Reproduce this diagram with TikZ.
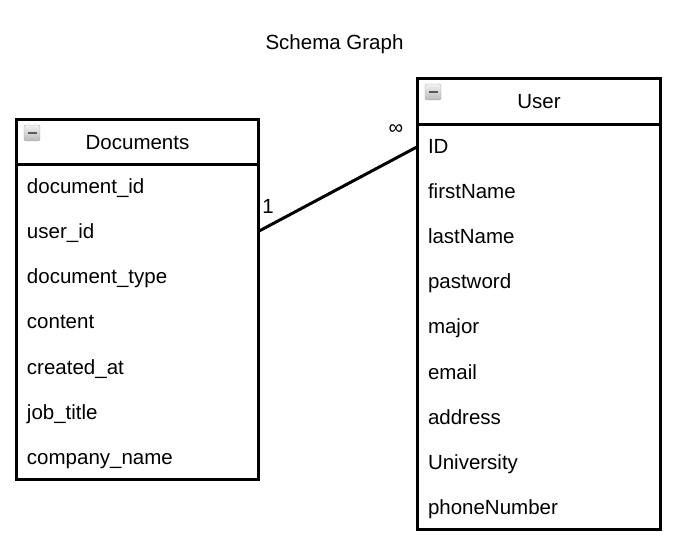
\documentclass[tikz,border=0pt]{standalone}
\usepackage{fontspec}
\setmainfont{Liberation Sans}
\usetikzlibrary{positioning,calc}

\tikzset{
    tblline/.style={line width=3pt},
    txt/.style={inner sep=0pt, font=\fontsize{20.5}{24}\selectfont},
    captxt/.style={txt, text height=15pt, text depth=0pt},
    tblhead/.style={captxt, minimum width=#1},
    row/.style={captxt, text width=#1, inner xsep=10pt, align=left, minimum height=45pt},
    collapse/.style={anchor=north west, minimum size=16pt, inner sep=0pt, draw=gray!70, top color=gray!10, bottom color=gray!55, rounded corners=1.5pt,
        path picture={\draw[line width=2.5pt, black!65] ($(path picture bounding box.west)+(3.5,0)$) -- ($(path picture bounding box.east)+(-3.5,0)$);}}
}

\begin{document}
\begin{tikzpicture}[x=1pt,y=-1pt]
    \useasboundingbox (0,0) rectangle (683,545);

    % Title
    \node[captxt] (title) at (334.5,42) {Schema Graph};

    % Documents table
    \node[tblhead=241pt, minimum height=44pt] (docHead) at (137.5,142) {Documents};
    \foreach \name [count=\i] in {document\_id,user\_id,document\_type,content,created\_at,job\_title,company\_name}
        \node[row=221pt] (doc\i) at (137.5,141.5+45*\i) {\name};
    \draw[tblline] (docHead.north west) rectangle (doc7.south east);
    \draw[tblline] (docHead.south west) -- (docHead.south east);
    \node[collapse] (docIcon) at ($(docHead.north west)+(7,5)$) {};

    % User table
    \node[tblhead=242pt, minimum height=45pt] (userHead) at (539,101.5) {User};
    \foreach \name [count=\i] in {ID,firstName,lastName,pastword,major,email,address,University,phoneNumber}
        \node[row=222pt] (user\i) at (539,101.5+45*\i) {\name};
    \draw[tblline] (userHead.north west) rectangle (user9.south east);
    \draw[tblline] (userHead.south west) -- (userHead.south east);
    \node[collapse] (userIcon) at ($(userHead.north west)+(7,5)$) {};

    % Relation
    \draw[tblline] (doc2.east) -- (user1.west);
    \node[captxt] (oneLbl) at (268,206.5) {1};
    \node[txt] (manyLbl) at (396,129.5) {∞};
\end{tikzpicture}
\end{document}
